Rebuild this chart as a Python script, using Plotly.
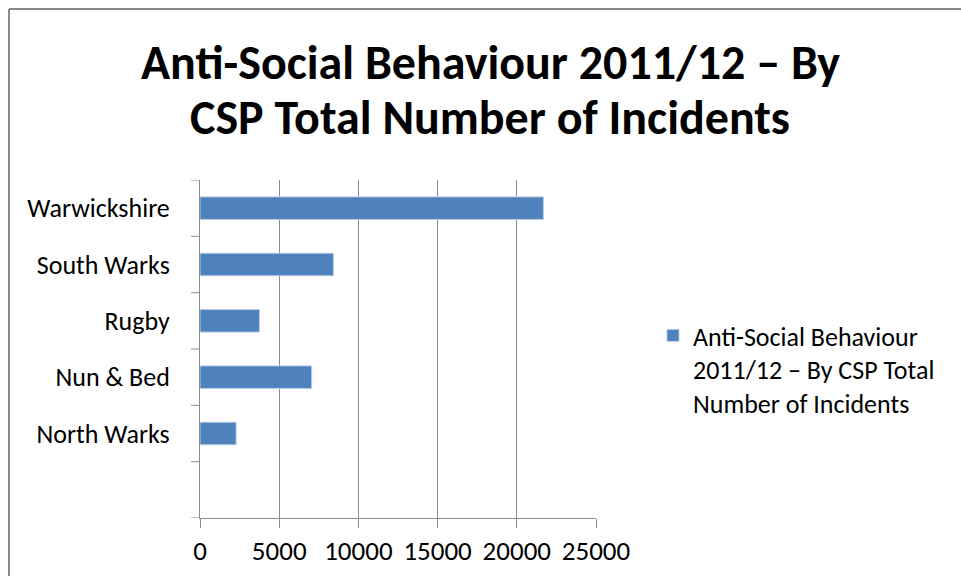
import plotly.graph_objects as go

categories = ["North Warks", "Nun & Bed", "Rugby", "South Warks", "Warwickshire"]
incidents = [2280, 7050, 3750, 8420, 21680]
x_ticks = [0, 5000, 10000, 15000, 20000, 25000]
series_name = "Anti-Social Behaviour<br>2011/12 – By CSP Total<br>Number of Incidents"
title_lines = ["Anti-Social Behaviour 2011/12 – By", "CSP Total Number of Incidents"]

FONT = "Carlito, Calibri, Lato, sans-serif"
W, H = 961, 576
L, R, T, B = 200, 365, 180, 58
pw, ph = W - L - R, H - T - B

def px_x(p):
    return (p - L) / pw

def px_y(p):
    return (H - B - p) / ph

fig = go.Figure()
fig.add_trace(go.Bar(
    y=list(range(len(categories))),
    x=incidents,
    orientation="h",
    width=0.4,
    name=series_name,
    marker=dict(color="#4F81BD", line=dict(color="#B9CDE5", width=1)),
    showlegend=True,
))

fig.update_layout(
    width=W, height=H,
    margin=dict(l=L, r=R, t=T, b=B, autoexpand=False),
    paper_bgcolor="white", plot_bgcolor="white",
    font=dict(family=FONT, size=26, color="#000000"),
    xaxis=dict(
        range=[0, 25000], tickvals=x_ticks, ticktext=[str(v) for v in x_ticks],
        showgrid=True, gridcolor="#8C8C8C", gridwidth=1,
        showline=True, linecolor="#8C8C8C", linewidth=1,
        ticks="outside", ticklen=9, tickcolor="#8C8C8C",
        zeroline=False, tickfont=dict(size=27, family=FONT),
        fixedrange=True,
    ),
    yaxis=dict(
        range=[-1.5, len(categories) - 0.5],
        tickvals=list(range(len(categories))), ticktext=categories,
        showgrid=False, showline=True, linecolor="#8C8C8C", linewidth=1,
        ticks="", zeroline=False, tickfont=dict(size=26, family=FONT),
        ticklabelstandoff=24,
        fixedrange=True,
    ),
    legend=dict(
        x=px_x(653), y=px_y(312), xanchor="left", yanchor="top",
        font=dict(size=26, family=FONT), bgcolor="rgba(0,0,0,0)",
        itemwidth=30, tracegroupgap=0, valign="top",
    ),
    showlegend=True,
)

# category boundary tick marks on the y axis
shapes = []
for i in range(len(categories) + 2):
    yb = -1.5 + i
    shapes.append(dict(type="line", xref="paper", yref="y",
                       x0=px_x(191), x1=0, y0=yb, y1=yb,
                       line=dict(color="#8C8C8C", width=1)))
# outer chart frame (left and top edges)
shapes.append(dict(type="line", xref="paper", yref="paper",
                   x0=px_x(9), x1=px_x(9), y0=px_y(9), y1=px_y(600),
                   line=dict(color="#878787", width=2)))
shapes.append(dict(type="line", xref="paper", yref="paper",
                   x0=px_x(9), x1=px_x(980), y0=px_y(9), y1=px_y(9),
                   line=dict(color="#878787", width=2)))
fig.update_layout(shapes=shapes)

for line, yc in zip(title_lines, [62, 118]):
    fig.add_annotation(text="<b>%s</b>" % line, xref="paper", yref="paper",
                       x=px_x(490), y=px_y(yc), xanchor="center", yanchor="middle",
                       showarrow=False, font=dict(size=48, family=FONT, color="#000000"))

fig.write_html(
    "out.html",
    config={"displayModeBar": False},
    post_script="document.body.style.margin='0px';document.body.style.overflow='hidden';",
)
